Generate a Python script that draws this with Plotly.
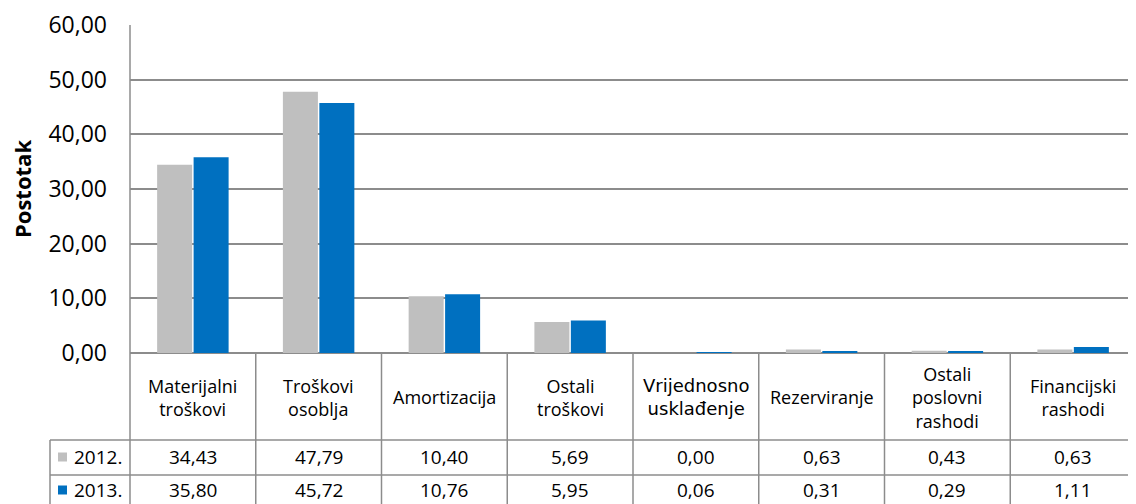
import plotly.graph_objects as go

# Data
categories = ["Materijalni<br>troškovi", "Troškovi<br>osoblja", "Amortizacija",
              "Ostali<br>troškovi", "Vrijednosno<br>usklađenje", "Rezerviranje",
              "Ostali<br>poslovni<br>rashodi", "Financijski<br>rashodi"]
series_names = ["2012.", "2013."]
values_2012 = [34.43, 47.79, 10.40, 5.69, 0.00, 0.63, 0.43, 0.63]
values_2013 = [35.80, 45.72, 10.76, 5.95, 0.06, 0.31, 0.29, 1.11]
colors = ["#BFBFBF", "#0070C0"]
y_ticks = [0, 10, 20, 30, 40, 50, 60]

# the page body has an 8px margin, so the figure is shrunk and shifted by that
OFF = 8
W, H = 1136 - OFF, 504 - OFF
MT, MB, ML, MR = 25 - OFF, 0, 130 - OFF, 0
FONT = "Open Sans"
GRID = "#8C8C8C"


def py(p):
    # reference pixel row -> paper y
    return (H - MB - (p - OFF)) / (H - MT - MB)


def px(p):
    # reference pixel column -> paper x
    return (p - OFF - ML) / (W - ML - MR)


n = len(categories)
xs = list(range(n))

fig = go.Figure()
for name, vals, col in zip(series_names, [values_2012, values_2013], colors):
    fig.add_trace(go.Bar(x=xs, y=vals, name=name, marker=dict(color=col, line=dict(width=0)),
                         showlegend=False))

y_zero, y_head, y_row1 = py(353), py(440), py(475)
y_bottom = -0.02

shapes = []
# table row lines
for yy in (y_head, y_row1):
    shapes.append(dict(type="line", xref="paper", yref="paper", x0=px(50), x1=1,
                       y0=yy, y1=yy, line=dict(color=GRID, width=1.5)))
# left edges
shapes.append(dict(type="line", xref="paper", yref="paper", x0=0, x1=0,
                   y0=y_bottom, y1=1, line=dict(color=GRID, width=1.5)))
shapes.append(dict(type="line", xref="paper", yref="paper", x0=px(50), x1=px(50),
                   y0=y_bottom, y1=y_head, line=dict(color=GRID, width=1.5)))
# column separators
for i in range(1, n):
    shapes.append(dict(type="line", xref="x", yref="paper", x0=i - 0.5, x1=i - 0.5,
                       y0=y_bottom, y1=y_zero, line=dict(color=GRID, width=1.5)))
# legend keys
for yy, col in zip((py(457), py(490)), colors):
    shapes.append(dict(type="rect", xref="paper", yref="paper", x0=px(58), x1=px(67),
                       y0=yy - 4.5 / (H - MT - MB), y1=yy + 4.5 / (H - MT - MB),
                       fillcolor=col, line=dict(width=0)))

annotations = []
for i, c in enumerate(categories):
    f = dict(family="DejaVu Sans", size=18, color="#000") if "Vrijednosno" in c \
        else dict(family=FONT, size=18, color="#000")
    annotations.append(dict(x=i, y=py(397), xref="x", yref="paper", text=c, showarrow=False,
                            font=f, align="center", xanchor="center", yanchor="middle"))
for yy, name, vals in zip((py(457), py(490)), series_names, [values_2012, values_2013]):
    annotations.append(dict(x=px(72), y=yy, xref="paper", yref="paper", text=name,
                            showarrow=False, xanchor="left", yanchor="middle",
                            font=dict(family=FONT, size=19, color="#000")))
    for i, v in enumerate(vals):
        annotations.append(dict(x=i, y=yy, xref="x", yref="paper",
                                text=f"{v:.2f}".replace(".", ","), showarrow=False,
                                xanchor="center", yanchor="middle",
                                font=dict(family=FONT, size=19, color="#000")))
# y axis title
annotations.append(dict(x=px(22), y=py(189), xref="paper", yref="paper",
                        text="<b>Postotak</b>", textangle=-90, showarrow=False,
                        xanchor="center", yanchor="middle",
                        font=dict(family=FONT, size=22, color="#000")))

fig.update_layout(
    width=W, height=H,
    margin=dict(t=MT, b=MB, l=ML, r=MR, autoexpand=False),
    paper_bgcolor="white", plot_bgcolor="white",
    barmode="group", bargap=0.42, bargroupgap=0.04,
    separators=",.",
    shapes=shapes, annotations=annotations,
    xaxis=dict(range=[-0.5, n - 0.5], showticklabels=False, showgrid=False,
               zeroline=False, showline=False, ticks="", automargin=False),
    yaxis=dict(domain=[y_zero, 1], range=[0, 60], tickvals=y_ticks, tickformat=".2f",
               showgrid=True, gridcolor=GRID, gridwidth=1.5, zeroline=True,
               zerolinecolor=GRID, zerolinewidth=1.5, showline=False, automargin=False,
               tickfont=dict(family=FONT, size=23, color="#000"), ticklabelstandoff=22),
    showlegend=False,
)

fig.write_html("out.html")
